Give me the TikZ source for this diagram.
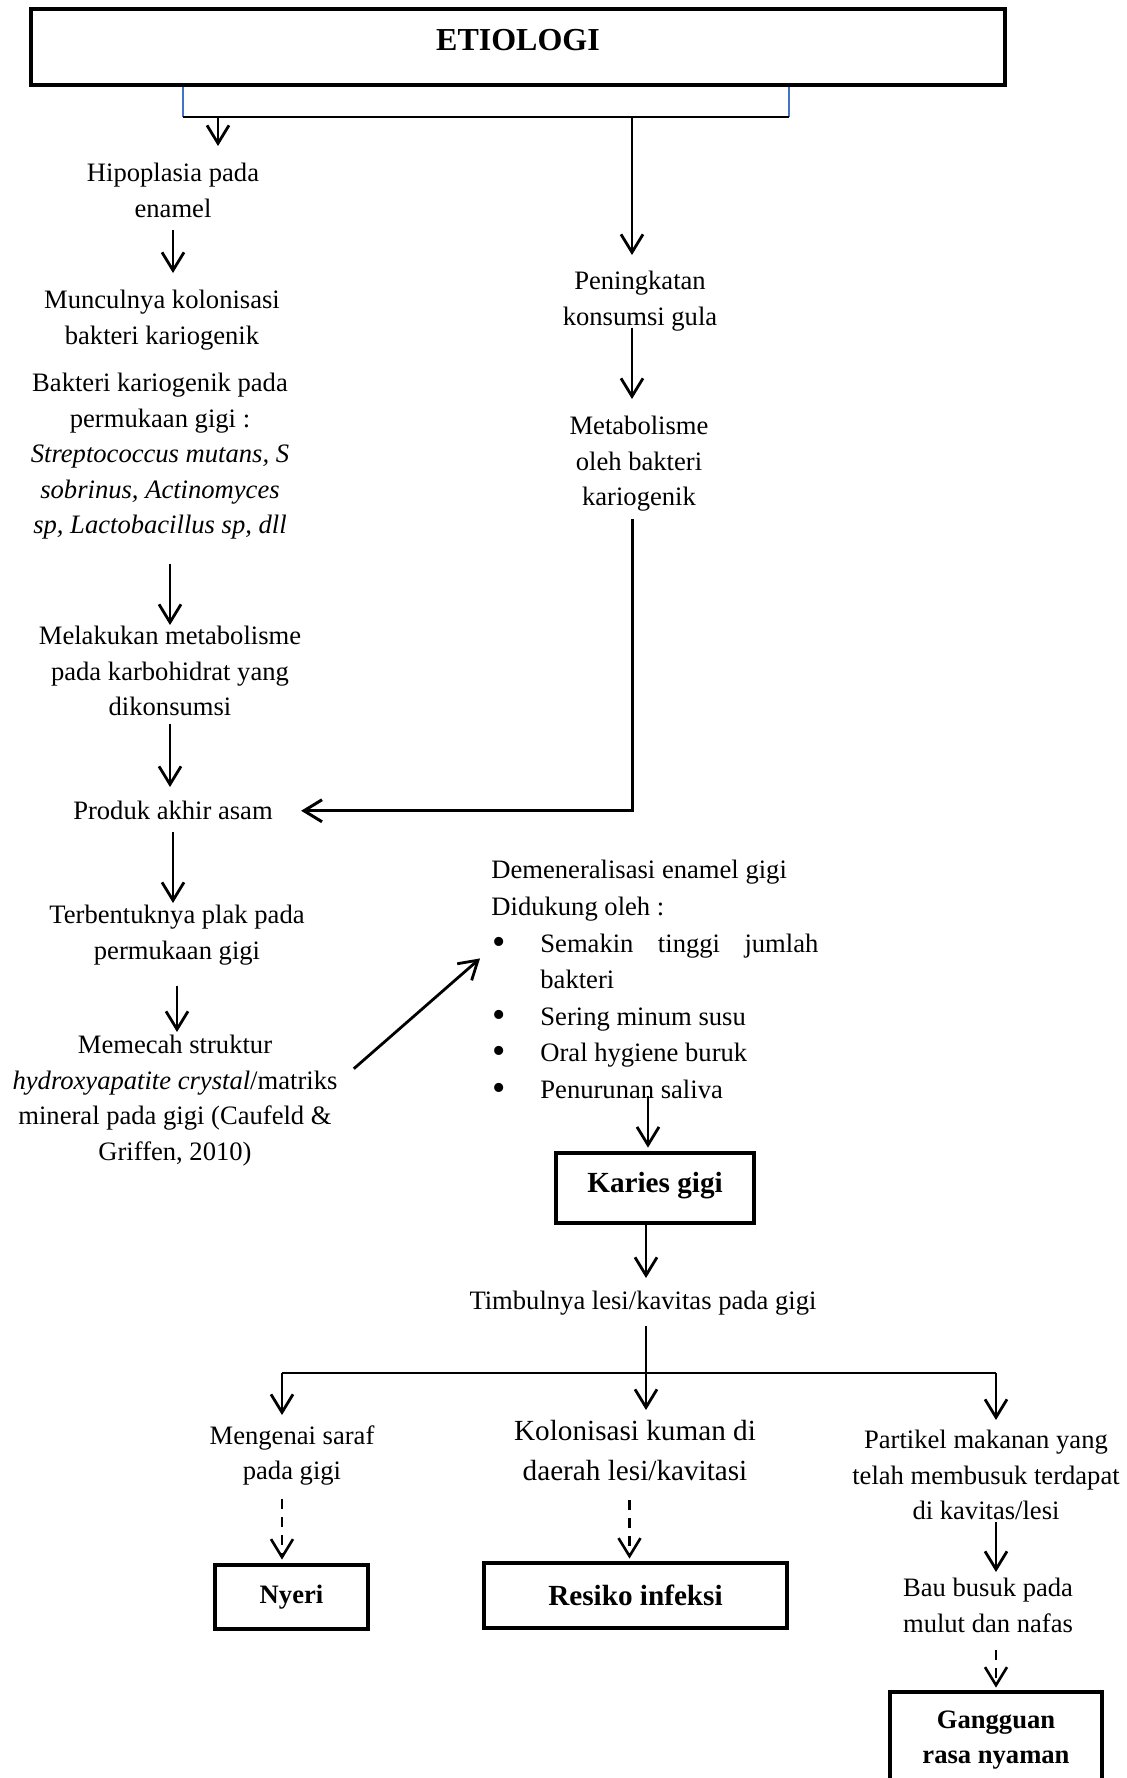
\documentclass[tikz,border=0pt]{standalone}
\usepackage{fontspec}
\setmainfont{Liberation Serif}
\usetikzlibrary{arrows.meta,calc,positioning}
\definecolor{wordblue}{RGB}{68,114,196}
\newcommand{\txtsize}{\fontsize{13.3}{17.75}\selectfont}
\newcommand{\bigtxt}{\fontsize{14.6}{20}\selectfont}
\newcommand{\bul}{\makebox[24.5pt][l]{\hspace*{0.5pt}\raisebox{-1pt}{\fontsize{19}{0}\selectfont\textbullet}}}

\begin{document}
\begin{tikzpicture}[x=0.5pt,y=-0.5pt,
txt/.style={font=\txtsize,align=center,inner sep=0pt,anchor=north},
box/.style={draw,line width=2.4pt,inner sep=0pt,font=\bfseries\bigtxt,align=center},
arr/.style={line width=1.4pt,-{Straight Barb[length=9pt,width=11pt]}},
darr/.style={line width=1.3pt,dash pattern=on 5pt off 4pt,-{Straight Barb[length=9pt,width=11pt]}},
bar/.style={line width=1.2pt}]
 \useasboundingbox (0,0) rectangle (1126,1778);
 % boxes
 \node[box,font=\bfseries\fontsize{16}{19}\selectfont,minimum width=487pt,minimum height=38pt,text depth=7pt] (etio) at (518,47) {ETIOLOGI};
 \node[box,minimum width=99pt,minimum height=35pt,text depth=6pt] (karies) at (655,1188) {Karies gigi};
 \node[box,font=\bfseries\txtsize,minimum width=76.5pt,minimum height=32pt] (nyeri) at (291.5,1597) {Nyeri};
 \node[box,minimum width=151.5pt,minimum height=32.5pt] (resiko) at (635.5,1595.5) {Resiko infeksi};
 \node[box,font=\bfseries\txtsize,minimum width=106pt,minimum height=48pt] (gangguan) at (996,1740) {Gangguan\\rasa nyaman};
 % left column
 \node[txt] (hipo) at (173,163) {Hipoplasia pada\\enamel};
 \node[txt] (muncul) at (162,290) {Munculnya kolonisasi\\bakteri kariogenik};
 \node[txt] (bakteri) at (160,373) {Bakteri kariogenik pada\\permukaan gigi :\\\textit{Streptococcus mutans, S}\\\textit{sobrinus, Actinomyces}\\\textit{sp, Lactobacillus sp, dll}};
 \node[txt] (melakukan) at (170,626) {Melakukan metabolisme\\pada karbohidrat yang\\dikonsumsi};
 \node[txt] (produk) at (173,801) {Produk akhir asam};
 \node[txt] (terbentuk) at (177,905) {Terbentuknya plak pada\\permukaan gigi};
 \node[txt] (memecah) at (175,1035) {Memecah struktur\\\textit{hydroxyapatite crystal}/matriks\\mineral pada gigi (Caufeld \&\\Griffen, 2010)};
 % right column
 \node[txt] (pening) at (640,271) {Peningkatan\\konsumsi gula};
 \node[txt] (metab) at (639,416) {Metabolisme\\oleh bakteri\\kariogenik};
 \node[txt,align=left,anchor=north west,font=\fontsize{13.3}{18.3}\selectfont] (demin) at (491,860) {Demeneralisasi enamel gigi\\Didukung oleh :\\\bul\makebox[139pt][s]{Semakin tinggi jumlah}\\\hspace*{24.5pt}bakteri\\\bul Sering minum susu\\\bul Oral hygiene buruk\\\bul Penurunan saliva};
 \node[txt] (timbul) at (643,1291) {Timbulnya lesi/kavitas pada gigi};
 % bottom row
 \node[txt] (meng) at (292,1425) {Mengenai saraf\\pada gigi};
 \node[txt,font=\bigtxt] (kolon) at (635,1420) {Kolonisasi kuman di\\daerah lesi/kavitasi};
 \node[txt] (partikel) at (986,1430) {Partikel makanan yang\\telah membusuk terdapat\\di kavitas/lesi};
 \node[txt] (bau) at (988,1578) {Bau busuk pada\\mulut dan nafas};

 % top split
 \coordinate (barL) at (183,117);
 \coordinate (barR) at (789,117);
 \coordinate (barM) at (632,117);
 \coordinate (hipoIn) at ($(barL)+(35,0)$);
 \draw[wordblue,line width=0.8pt] (barL |- etio.south) -- (barL);
 \draw[wordblue,line width=0.8pt] (barR |- etio.south) -- (barR);
 \draw[bar] (barL) -- (barR);
 \draw[arr,shorten >=8.5pt] (hipoIn) -- (hipoIn |- hipo.north);
 \draw[arr,shorten <=6pt,shorten >=8.5pt] (hipo.south) -- (hipo.south |- muncul.north);
 \draw[arr,shorten >=8pt] (barM) -- (barM |- pening.north);
 \draw[arr,shorten <=-2pt,shorten >=8.5pt] (barM |- pening.south) -- (barM |- metab.north);
 \draw[arr,line width=1.5pt,shorten <=3.5pt,shorten >=14pt] (barM |- metab.south) -- (barM |- produk.east) -- (produk.east);
 % left chain
 \draw[arr,shorten <=12pt,shorten >=0.5pt] (melakukan.north |- bakteri.south) -- (melakukan.north);
 \draw[arr,shorten <=3.5pt,shorten >=7pt] (melakukan.south) -- (melakukan.south |- produk.north);
 \draw[arr,shorten <=5.5pt,shorten >=1pt] (produk.south) -- (produk.south |- terbentuk.north);
 \draw[arr,shorten <=10pt,shorten >=1.5pt] (terbentuk.south) -- (terbentuk.south |- memecah.north);
 \draw[arr] ($(memecah.east)+(16,-32)$) -- ($(demin.west)+(-11,-22)$);
 % karies
 \draw[arr,shorten <=-2.5pt,shorten >=1.5pt] ([xshift=-3.5pt]karies.north |- demin.south) -- ([xshift=-3.5pt]karies.north);
 \draw[arr,shorten >=6.5pt] ([xshift=-4.5pt]karies.south) -- ([xshift=-4.5pt]karies.south |- timbul.north);
 % bottom split
 \coordinate (split) at (646,1373);
 \coordinate (splitL) at (282,1373);
 \coordinate (splitR) at (996,1373);
 \draw[bar,shorten <=5pt] (split |- timbul.south) -- (split);
 \draw[bar] (splitL) -- (splitR);
 \foreach \S/\N in {splitL/meng,split/kolon,splitR/partikel}
  \draw[arr,shorten >=5pt] (\S) -- (\S |- \N.north);
 \draw[darr,shorten <=6.5pt,shorten >=1.5pt] (splitL |- meng.south) -- (splitL |- nyeri.north);
 \draw[darr,shorten <=9.5pt,shorten >=1pt] ([xshift=-3pt]resiko.north |- kolon.south) -- ([xshift=-3pt]resiko.north);
 \draw[arr,shorten <=0.5pt,shorten >=3pt] (splitR |- partikel.south) -- (splitR |- bau.north);
 \draw[darr,shorten <=8.5pt,shorten >=1pt] (splitR |- bau.south) -- (splitR |- gangguan.north);
\end{tikzpicture}
\end{document}
